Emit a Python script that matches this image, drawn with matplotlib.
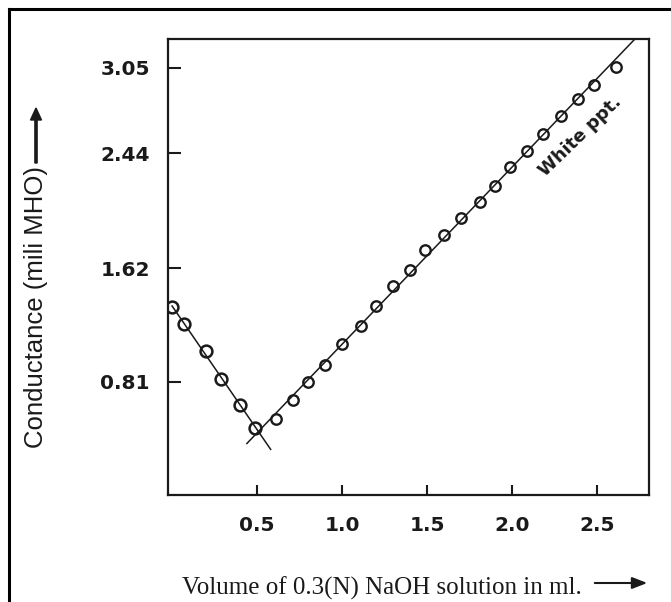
import matplotlib
matplotlib.use("Agg")
import matplotlib.pyplot as plt
from matplotlib.lines import Line2D
import numpy as np

# conductometric titration readings
vol_left = [0.00, 0.07, 0.20, 0.29, 0.40, 0.49]
cond_left = [1.34, 1.22, 1.03, 0.83, 0.64, 0.48]

vol_right = [0.61, 0.71, 0.80, 0.90, 1.00, 1.11, 1.20, 1.30, 1.40, 1.49,
             1.60, 1.70, 1.81, 1.90, 1.99, 2.09, 2.18, 2.29, 2.39, 2.48, 2.61]
cond_right = [0.54, 0.68, 0.81, 0.93, 1.08, 1.21, 1.35, 1.49, 1.61, 1.75,
              1.86, 1.98, 2.09, 2.21, 2.34, 2.46, 2.58, 2.71, 2.83, 2.93, 3.06]

xticks = [0.5, 1.0, 1.5, 2.0, 2.5]
xtick_labels = ["0.5", "1.0", "1.5", "2.0", "2.5"]
yticks = [0.81, 1.62, 2.44, 3.05]
ytick_labels = ["0.81", "1.62", "2.44", "3.05"]

fig = plt.figure(figsize=(6.71, 6.02), dpi=100)
ax = fig.add_axes([168/671, 1 - 495/602, (649-168)/671, (495-39)/602])

ink = "#1a1a1a"

# best-fit straight lines for both branches, extended past the end point
pl = np.polyfit(vol_left, cond_left, 1)
xl = np.array([0.0, 0.58])
ax.plot(xl, np.polyval(pl, xl), color=ink, lw=1.1)

pr = np.polyfit(vol_right, cond_right, 1)
xr = np.array([0.44, 2.79])
ax.plot(xr, np.polyval(pr, xr), color=ink, lw=1.1)

ax.plot(vol_left, cond_left, "o", ms=8.5, mfc="none", mec=ink, mew=1.8)
ax.plot(vol_right, cond_right, "o", ms=7.5, mfc="none", mec=ink, mew=1.7)

ax.text(2.40, 2.56, "White ppt.", rotation=44, rotation_mode="anchor",
        ha="center", va="center", fontsize=13, fontweight="bold",
        family="DejaVu Sans", color=ink)

ax.set_xlim(-0.024, 2.806)
ax.set_ylim(0, 3.257)

ax.set_xticks(xticks)
ax.set_xticklabels(xtick_labels)
ax.set_yticks(yticks)
ax.set_yticklabels(ytick_labels)
for lab in ax.get_xticklabels() + ax.get_yticklabels():
    lab.set_fontfamily("DejaVu Sans")
    lab.set_fontweight("bold")
    lab.set_fontsize(14.5)
    lab.set_color(ink)
ax.tick_params(axis="x", direction="in", length=7, width=1.5, pad=15, colors=ink)
ax.tick_params(axis="y", direction="in", length=9, width=1.5, pad=13, colors=ink)

for side in ["top", "bottom", "left", "right"]:
    ax.spines[side].set_linestyle((0, (4, 1)))
    ax.spines[side].set_linewidth(1.6)
    ax.spines[side].set_color(ink)

# axis titles with their arrows
fig.text(36/671, 1 - 307/602, "Conductance (mili MHO)", rotation=90,
         ha="center", va="center", fontsize=18.5, family="Liberation Sans",
         color=ink)
fig.patches.append(matplotlib.patches.FancyArrow(
    36/671, 1 - 163/602, 0, -(108-163)/602 - 12/602, width=2/602,
    head_width=11/671, head_length=12/602, length_includes_head=False,
    transform=fig.transFigure, color=ink))

fig.text(382/671, 1 - 588/602, "Volume of 0.3(N) NaOH solution in ml.",
         ha="center", va="center", fontsize=18, family="Liberation Serif",
         color=ink)
ax.annotate("", xy=(650/671, 1 - 583/602), xytext=(592/671, 1 - 583/602),
            xycoords="figure fraction", textcoords="figure fraction",
            arrowprops=dict(arrowstyle="-|>,head_length=0.9,head_width=0.35",
                            color=ink, lw=1.5))

# outer frame of the scanned figure (only top and left edges show)
fig.lines.append(Line2D([8.5/671, 8.5/671], [0, 1 - 8.5/602],
                        transform=fig.transFigure, color="black", lw=2.2))
fig.lines.append(Line2D([8.5/671, 1], [1 - 8.5/602, 1 - 8.5/602],
                        transform=fig.transFigure, color="black", lw=2.2))

fig.savefig("out.png", dpi=100)
